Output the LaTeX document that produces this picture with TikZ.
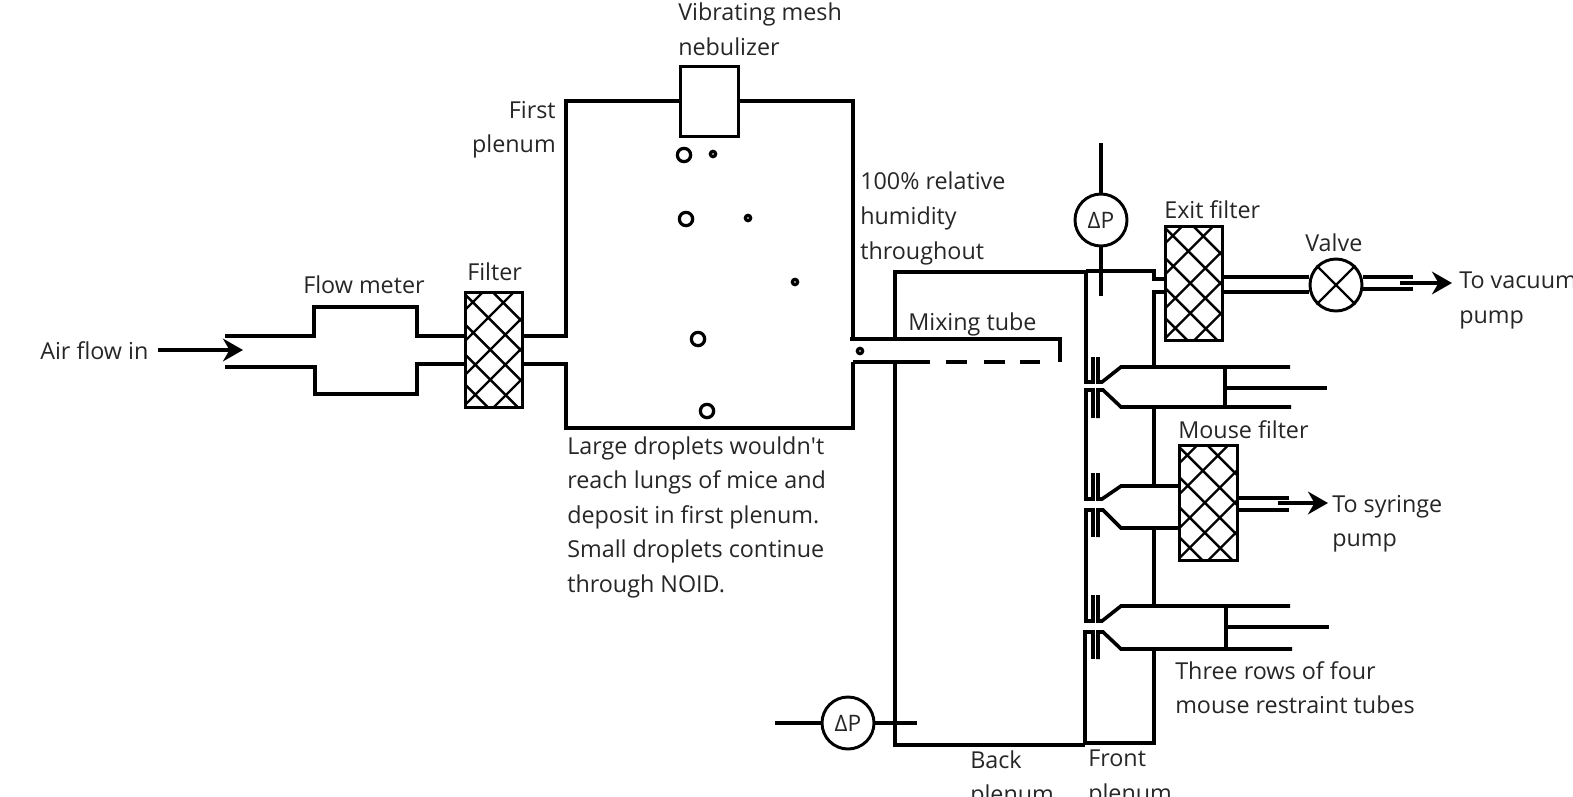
\documentclass[tikz,border=0pt]{standalone}
\usepackage{fontspec}
\usepackage{xcolor}
\usetikzlibrary{arrows.meta}
\setmainfont{Open Sans}

\tikzset{
  pipe/.style={line width=2.7pt},
  flow/.style={line width=2.7pt,-{Stealth[length=15pt,width=17pt]}},
  droplet/.style={line width=2.4pt},
  label/.style={anchor=north west,inner sep=0pt,align=left,text=black!85,
    font=\fontsize{17.5}{25.9}\selectfont,execute at begin node=\strut},
  gauge/.style={draw,circle,line width=2.2pt,inner sep=0pt,minimum size=39pt,text=black!85,
    font=\fontsize{17}{18}\selectfont},
  filterbox/.style={draw,rectangle,line width=2.2pt,inner sep=0pt,minimum width=43pt,minimum height=86pt,
    path picture={
      \coordinate (nw) at (path picture bounding box.north west);
      \draw[line width=1.8pt]
        ([shift={(0,-28)}]nw) -- ++(150,150)
        ([shift={(0,2)}]nw) -- ++(150,150)
        ([shift={(0,32)}]nw) -- ++(150,150)
        ([shift={(0,62)}]nw) -- ++(150,150)
        ([shift={(0,92)}]nw) -- ++(150,150)
        ([shift={(0,17)}]nw) -- ++(50,-50)
        ([shift={(0,48)}]nw) -- ++(80,-80)
        ([shift={(0,82)}]nw) -- ++(110,-110)
        ([shift={(0,112)}]nw) -- ++(130,-130)
        ([shift={(0,143)}]nw) -- ++(160,-160);
    }},
}

\begin{document}
\begin{tikzpicture}[x=0.75pt,y=-0.75pt]
\clip (0,0) rectangle (1573,796);

% filters, gauges, valve
\node[filterbox] (inletfilter) at (494,350) {};
\node[filterbox] (exitfilter) at (1194,283.5) {};
\node[filterbox] (mousefilter) at (1208.5,503) {};
\node[draw,rectangle,line width=2.2pt,minimum width=44pt,minimum height=53pt] (nebulizer) at (709.5,101.5) {};
\node[gauge] (topgauge) at (1101,220) {ΔP};
\node[gauge] (backgauge) at (848,723) {ΔP};
\node[gauge] (valve) at (1336,285) {};
\draw[line width=1.8pt] (valve.45) -- (valve.225);
\draw[line width=1.8pt] (valve.135) -- (valve.315);

% inlet and flow meter
\draw[pipe] (225,336) -- (314,336) -- (314,307) -- (417,307) -- (417,336) -- (inletfilter.west |- 417,336);
\draw[pipe] (225,367) -- (315,367) -- (315,394) -- (417,394) -- (417,364) -- (inletfilter.west |- 417,364);

% first plenum
\draw[pipe] (inletfilter.east |- 0,336) -- (566,336) -- (566,101) -- (nebulizer.west |- 0,101);
\draw[pipe] (nebulizer.east |- 0,101) -- (853,101) -- (853,339);
\draw[pipe] (inletfilter.east |- 0,364) -- (566,364) -- (566,428) -- (853,428) -- (853,362);

% mixing tube
\draw[pipe] (850,339) -- (1060,339) -- (1060,362);
\draw[pipe] (853,362) -- (930,362);
\draw[pipe] (946,362) -- (967,362);
\draw[pipe] (984,362) -- (1005,362);
\draw[pipe] (1020,362) -- (1040,362);

% back plenum
\draw[pipe] (895,339) -- (895,272) -- (1086,272);
\draw[pipe] (895,362) -- (895,745) -- (1085,745);
\draw[pipe] (1093,357) -- (1093,382) -- (1086,382) -- (1086,272);
\draw[pipe] (1093,418) -- (1093,390) -- (1086,390) -- (1086,499) -- (1093,499) -- (1093,473);
\draw[pipe] (1093,537) -- (1093,510) -- (1086,510) -- (1086,621) -- (1093,621) -- (1093,595);
\draw[pipe] (1093,659) -- (1093,632) -- (1085,632) -- (1085,745);

% front plenum
\draw[pipe] (1086,271) -- (1154,271) -- (1154,279) -- (exitfilter.west |- 0,279);
\draw[pipe] (exitfilter.west |- 0,292) -- (1154,292) -- (1154,367);
\draw[pipe] (1154,407) -- (1154,486);
\draw[pipe] (1154,528) -- (1154,606);
\draw[pipe] (1154,649) -- (1154,743) -- (1085,743);

% top row of tubes
\draw[pipe] (1098,357) -- (1098,382) -- (1102,382) -- (1121,367) -- (1290,367);
\draw[pipe] (1098,418) -- (1098,390) -- (1103,390) -- (1121,407) -- (1291,407);
\draw[pipe] (1225,367) -- (1225,407);
\draw[pipe] (1225,388) -- (1327,388);

% middle row
\draw[pipe] (1098,473) -- (1098,499) -- (1102,499) -- (1121,486) -- (mousefilter.west |- 0,486);
\draw[pipe] (1098,537) -- (1098,510) -- (1103,510) -- (1121,528) -- (mousefilter.west |- 0,528);

% bottom row
\draw[pipe] (1098,595) -- (1098,621) -- (1102,621) -- (1121,606) -- (1290,606);
\draw[pipe] (1098,659) -- (1098,632) -- (1103,632) -- (1121,649) -- (1292,649);
\draw[pipe] (1226,606) -- (1226,649);
\draw[pipe] (1226,627) -- (1329,627);

% gauge leads
\draw[pipe] (topgauge.north) -- (1101,143);
\draw[pipe] (topgauge.south) -- (1101,296);
\draw[pipe] (775,723) -- (backgauge.west);
\draw[pipe] (backgauge.east) -- (917,723);

% outlets
\draw[pipe] (exitfilter.east |- 0,277) -- (valve.west |- 0,277);
\draw[pipe] (exitfilter.east |- 0,292) -- (valve.west |- 0,292);
\draw[pipe] (valve.east |- 0,277) -- (1413,277);
\draw[pipe] (valve.east |- 0,289) -- (1413,289);
\draw[pipe] (mousefilter.east |- 0,498) -- (1289,498);
\draw[pipe] (mousefilter.east |- 0,510) -- (1289,510);
\coordinate (vacuumstart) at (1400,283);
\coordinate (vacuumend) at (1452,283);
\coordinate (syringestart) at (1278,503);
\coordinate (syringeend) at (1328,503);
\coordinate (airstart) at (158,350);
\coordinate (airend) at (243,350);
\draw[flow] (vacuumstart) -- (vacuumend);
\draw[flow] (syringestart) -- (syringeend);
\draw[flow] (airstart) -- (airend);

% droplets
\draw[droplet] (684,155) circle (5pt);
\draw[droplet] (713,154) circle (2pt);
\draw[droplet] (686,219) circle (5pt);
\draw[droplet] (748,218) circle (2pt);
\draw[droplet] (795,282) circle (2pt);
\draw[droplet] (698,339) circle (5pt);
\draw[droplet] (707,411) circle (5pt);
\draw[droplet] (860,351) circle (2pt);

% labels
\node[label] (nebulizerlabel) at (678,3) {Vibrating mesh\\nebulizer};
\node[label,anchor=north east,align=right] (firstplenum) at (556,101) {First\\plenum};
\node[label] (humidity) at (860,172) {100\% relative\\humidity\\throughout};
\node[label] (exitlabel) at (1164,194) {Exit filter};
\node[label] (valvelabel) at (1305,227) {Valve};
\node[label] (flowmeter) at (303,269) {Flow meter};
\node[label] (filterlabel) at (467,256) {Filter};
\node[label] (airlabel) at (40,335) {Air flow in};
\node[label] (mixinglabel) at (908,306) {Mixing tube};
\node[label] (vacuumlabel) at (1459,272) {To vacuum\\pump};
\node[label] (mouselabel) at (1178,414) {Mouse filter};
\node[label] (syringelabel) at (1332,495) {To syringe\\pump};
\node[label] (droplabel) at (567,436) {Large droplets wouldn\textquotesingle t\\reach lungs of mice and\\deposit in first plenum.\\Small droplets continue\\through NOID.};
\node[label] (rowslabel) at (1175,661) {Three rows of four\\mouse restraint tubes};
\node[label] (backlabel) at (970,750) {Back\\plenum};
\node[label] (frontlabel) at (1088,750) {Front\\plenum};

\end{tikzpicture}
\end{document}
